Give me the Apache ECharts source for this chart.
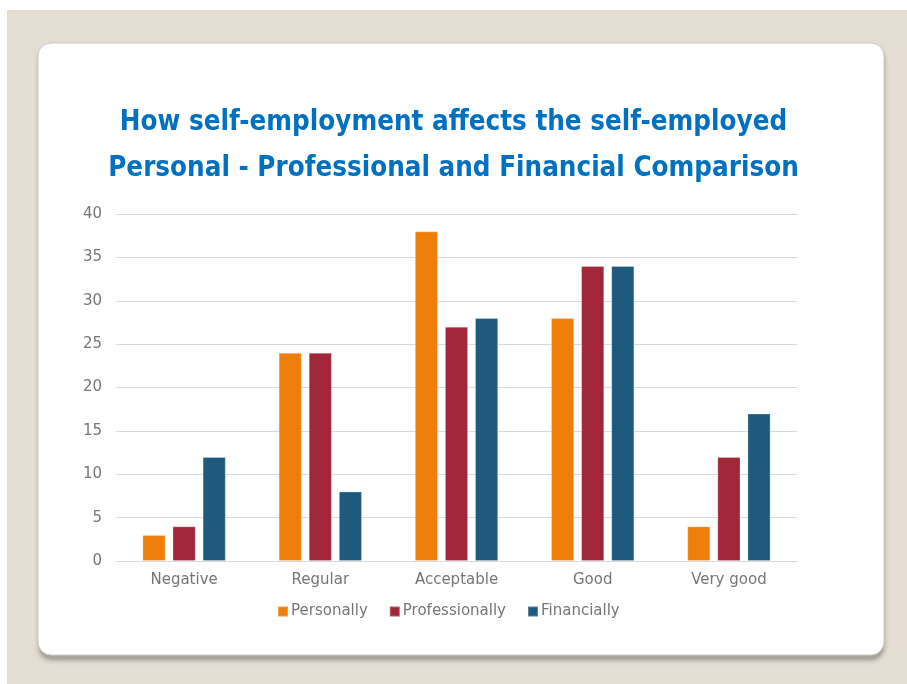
<!DOCTYPE html>
<html>
<head>
<meta charset="utf-8">
<script src="https://cdn.jsdelivr.net/npm/echarts@6/dist/echarts.min.js"></script>
<style>
html,body{margin:0;padding:0;background:#ffffff;}
#chart{width:907px;height:684px;}
</style>
</head>
<body>
<div id="chart"></div>
<script>
const categories = ["Negative", "Regular", "Acceptable", "Good", "Very good"];
const seriesNames = ["Personally", "Professionally", "Financially"];
const personally = [3, 24, 38, 28, 4];
const professionally = [4, 24, 27, 34, 12];
const financially = [12, 8, 28, 34, 17];
const titleLines = ["How self-employment affects the self-employed", "Personal - Professional and Financial Comparison"];
const colors = ["#ef7f0b", "#a12738", "#1e5a7d"];

const chart = echarts.init(document.getElementById('chart'));
const labelFont = "DejaVu Sans";
const labelColor = "#767676";
const seriesData = [personally, professionally, financially];

chart.setOption({
  animation: false,
  graphic: [
    { type: 'rect', z: -10, silent: true, shape: { x: 7, y: 10, width: 900, height: 674 }, style: { fill: '#e4ddd2' } },
    { type: 'rect', z: -9, silent: true, shape: { x: 39, y: 45, width: 845, height: 613, r: 13 },
      style: { fill: '#a9a59e', shadowBlur: 5, shadowOffsetX: 0, shadowOffsetY: 2, shadowColor: 'rgba(0,0,0,0.35)' } },
    { type: 'rect', z: -8, silent: true, shape: { x: 38, y: 43, width: 846, height: 612, r: 13 },
      style: { fill: '#ffffff', stroke: '#d0ccc5', lineWidth: 1 } }
  ],
  title: {
    text: titleLines.join('\n'),
    left: 'center',
    top: 100,
    padding: [0, 0, 0, 8],
    textStyle: { fontFamily: "DejaVu Sans Condensed", fontWeight: 'bold', fontSize: 27.5, color: '#0070c0', lineHeight: 46 }
  },
  legend: {
    data: seriesNames,
    left: 277,
    top: 604,
    padding: 0,
    itemWidth: 10,
    itemHeight: 10,
    itemGap: 21,
    icon: 'rect',
    textStyle: { fontFamily: labelFont, fontSize: 15, color: labelColor, padding: [0, 0, 0, -2] }
  },
  grid: { left: 116, right: 110, top: 214, bottom: 123, containLabel: false },
  xAxis: {
    type: 'category',
    data: categories,
    axisTick: { show: false },
    axisLine: { lineStyle: { color: '#d9d9d9', width: 1 } },
    axisLabel: { fontFamily: labelFont, fontSize: 15, color: labelColor, margin: 12 }
  },
  yAxis: {
    type: 'value',
    min: 0,
    max: 40,
    interval: 5,
    axisLine: { show: false },
    axisTick: { show: false },
    splitLine: { lineStyle: { color: '#d9d9d9', width: 1 } },
    axisLabel: { fontFamily: labelFont, fontSize: 15, color: labelColor, margin: 14 }
  },
  series: seriesNames.map((name, i) => ({
    name: name,
    type: 'bar',
    data: seriesData[i],
    barWidth: '17%',
    barGap: '30%',
    itemStyle: { color: colors[i], borderColor: 'rgba(255,255,255,0.25)', borderWidth: 1 }
  }))
});
</script>
</body>
</html>
